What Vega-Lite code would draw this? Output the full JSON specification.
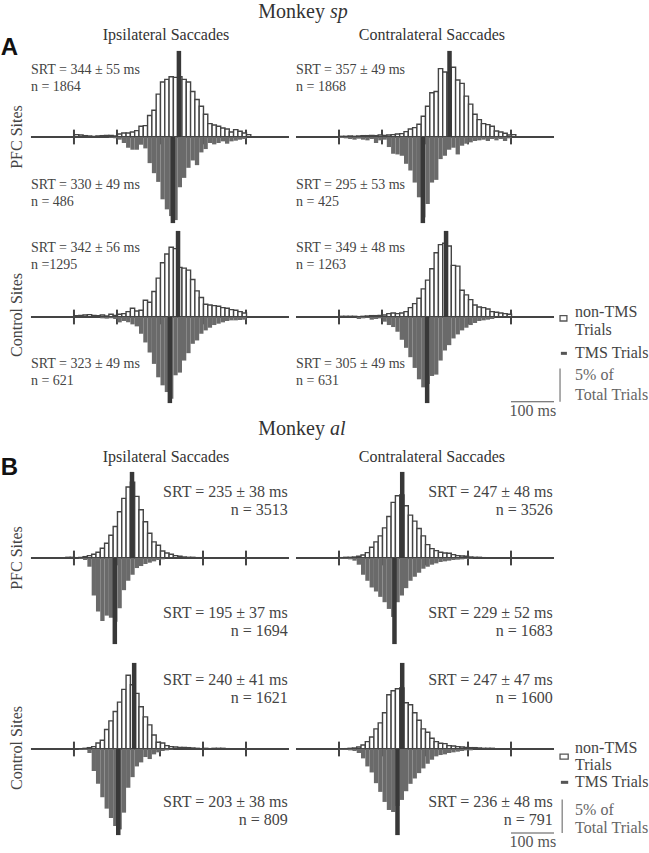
{
"$schema":"https://vega.github.io/schema/vega-lite/v6.json",
"padding":0,
"background":"white",
"spacing":0,
"bounds":"flush",
"columns":2,
"config":{"view":{"stroke":null},"axis":{"disable":true},"concat":{"spacing":0}},
"datasets":{
"ticks":[{"t":100},{"t":200},{"t":300},{"t":400},{"t":500}],
"stats":[
{"p":"A1L","s":"non","m":344,"l":["SRT = 344 ± 55 ms","n = 1864"]},
{"p":"A1L","s":"tms","m":330,"l":["SRT = 330 ± 49 ms","n = 486"]},
{"p":"A1R","s":"non","m":357,"l":["SRT = 357 ± 49 ms","n = 1868"]},
{"p":"A1R","s":"tms","m":295,"l":["SRT = 295 ± 53 ms","n = 425"]},
{"p":"A2L","s":"non","m":342,"l":["SRT = 342 ± 56 ms","n =1295"]},
{"p":"A2L","s":"tms","m":323,"l":["SRT = 323 ± 49 ms","n = 621"]},
{"p":"A2R","s":"non","m":349,"l":["SRT = 349 ± 48 ms","n = 1263"]},
{"p":"A2R","s":"tms","m":305,"l":["SRT = 305 ± 49 ms","n = 631"]},
{"p":"B1L","s":"non","m":235,"l":["SRT = 235 ± 38 ms","n = 3513"]},
{"p":"B1L","s":"tms","m":195,"l":["SRT = 195 ± 37 ms","n = 1694"]},
{"p":"B1R","s":"non","m":247,"l":["SRT = 247 ± 48 ms","n = 3526"]},
{"p":"B1R","s":"tms","m":229,"l":["SRT = 229 ± 52 ms","n = 1683"]},
{"p":"B2L","s":"non","m":240,"l":["SRT = 240 ± 41 ms","n = 1621"]},
{"p":"B2L","s":"tms","m":203,"l":["SRT = 203 ± 38 ms","n = 809"]},
{"p":"B2R","s":"non","m":247,"l":["SRT = 247 ± 47 ms","n = 1600"]},
{"p":"B2R","s":"tms","m":236,"l":["SRT = 236 ± 48 ms","n = 791"]}
],
"bins":[
{"p":"A1L","s":"non","t":100,"v":0.35},{"p":"A1L","s":"non","t":110,"v":0.3},{"p":"A1L","s":"non","t":120,"v":0.2},{"p":"A1L","s":"non","t":130,"v":0.15},{"p":"A1L","s":"non","t":140,"v":0.1},{"p":"A1L","s":"non","t":150,"v":0.15},{"p":"A1L","s":"non","t":160,"v":0.2},{"p":"A1L","s":"non","t":170,"v":0.25},{"p":"A1L","s":"non","t":180,"v":0.25},{"p":"A1L","s":"non","t":190,"v":0.15},{"p":"A1L","s":"non","t":200,"v":0.45},{"p":"A1L","s":"non","t":210,"v":0.6},{"p":"A1L","s":"non","t":220,"v":0.6},{"p":"A1L","s":"non","t":230,"v":0.75},{"p":"A1L","s":"non","t":240,"v":0.95},{"p":"A1L","s":"non","t":250,"v":1.6},{"p":"A1L","s":"non","t":260,"v":1.7},{"p":"A1L","s":"non","t":270,"v":3.2},{"p":"A1L","s":"non","t":280,"v":4.0},{"p":"A1L","s":"non","t":290,"v":6.4},{"p":"A1L","s":"non","t":300,"v":8.2},{"p":"A1L","s":"non","t":310,"v":8.6},{"p":"A1L","s":"non","t":320,"v":9.0},{"p":"A1L","s":"non","t":330,"v":8.9},{"p":"A1L","s":"non","t":340,"v":9.0},{"p":"A1L","s":"non","t":350,"v":8.6},{"p":"A1L","s":"non","t":360,"v":8.2},{"p":"A1L","s":"non","t":370,"v":6.8},{"p":"A1L","s":"non","t":380,"v":5.6},{"p":"A1L","s":"non","t":390,"v":4.6},{"p":"A1L","s":"non","t":400,"v":3.4},{"p":"A1L","s":"non","t":410,"v":2.0},{"p":"A1L","s":"non","t":420,"v":1.8},{"p":"A1L","s":"non","t":430,"v":1.6},{"p":"A1L","s":"non","t":440,"v":1.35},{"p":"A1L","s":"non","t":450,"v":1.2},{"p":"A1L","s":"non","t":460,"v":0.75},{"p":"A1L","s":"non","t":470,"v":1.1},{"p":"A1L","s":"non","t":480,"v":0.85},{"p":"A1L","s":"non","t":490,"v":0.6},{"p":"A1L","s":"non","t":500,"v":0.35},
{"p":"A1L","s":"tms","t":180,"v":0.1},{"p":"A1L","s":"tms","t":190,"v":0.2},{"p":"A1L","s":"tms","t":200,"v":0.4},{"p":"A1L","s":"tms","t":210,"v":0.9},{"p":"A1L","s":"tms","t":220,"v":1.6},{"p":"A1L","s":"tms","t":230,"v":1.9},{"p":"A1L","s":"tms","t":240,"v":1.9},{"p":"A1L","s":"tms","t":250,"v":1.15},{"p":"A1L","s":"tms","t":260,"v":1.7},{"p":"A1L","s":"tms","t":270,"v":3.9},{"p":"A1L","s":"tms","t":280,"v":5.4},{"p":"A1L","s":"tms","t":290,"v":6.7},{"p":"A1L","s":"tms","t":300,"v":9.3},{"p":"A1L","s":"tms","t":310,"v":10.8},{"p":"A1L","s":"tms","t":320,"v":11.8},{"p":"A1L","s":"tms","t":330,"v":12.4},{"p":"A1L","s":"tms","t":340,"v":7.5},{"p":"A1L","s":"tms","t":350,"v":6.1},{"p":"A1L","s":"tms","t":360,"v":4.6},{"p":"A1L","s":"tms","t":370,"v":3.5},{"p":"A1L","s":"tms","t":380,"v":4.2},{"p":"A1L","s":"tms","t":390,"v":2.3},{"p":"A1L","s":"tms","t":400,"v":1.8},{"p":"A1L","s":"tms","t":410,"v":0.9},{"p":"A1L","s":"tms","t":420,"v":1.1},{"p":"A1L","s":"tms","t":430,"v":0.9},{"p":"A1L","s":"tms","t":440,"v":0.65},{"p":"A1L","s":"tms","t":450,"v":1.0},{"p":"A1L","s":"tms","t":460,"v":0.65},{"p":"A1L","s":"tms","t":470,"v":0.55},{"p":"A1L","s":"tms","t":480,"v":0.4},{"p":"A1L","s":"tms","t":490,"v":0.3},
{"p":"A1R","s":"non","t":100,"v":0.1},{"p":"A1R","s":"non","t":110,"v":0.1},{"p":"A1R","s":"non","t":120,"v":0.15},{"p":"A1R","s":"non","t":130,"v":0.1},{"p":"A1R","s":"non","t":140,"v":0.15},{"p":"A1R","s":"non","t":150,"v":0.2},{"p":"A1R","s":"non","t":160,"v":0.2},{"p":"A1R","s":"non","t":170,"v":0.25},{"p":"A1R","s":"non","t":180,"v":0.2},{"p":"A1R","s":"non","t":190,"v":0.3},{"p":"A1R","s":"non","t":200,"v":0.25},{"p":"A1R","s":"non","t":210,"v":0.3},{"p":"A1R","s":"non","t":220,"v":0.35},{"p":"A1R","s":"non","t":230,"v":0.45},{"p":"A1R","s":"non","t":240,"v":0.5},{"p":"A1R","s":"non","t":250,"v":0.8},{"p":"A1R","s":"non","t":260,"v":1.2},{"p":"A1R","s":"non","t":270,"v":1.4},{"p":"A1R","s":"non","t":280,"v":1.9},{"p":"A1R","s":"non","t":290,"v":3.1},{"p":"A1R","s":"non","t":300,"v":4.6},{"p":"A1R","s":"non","t":310,"v":6.6},{"p":"A1R","s":"non","t":320,"v":6.8},{"p":"A1R","s":"non","t":330,"v":10.2},{"p":"A1R","s":"non","t":340,"v":9.7},{"p":"A1R","s":"non","t":350,"v":9.6},{"p":"A1R","s":"non","t":360,"v":10.4},{"p":"A1R","s":"non","t":370,"v":8.5},{"p":"A1R","s":"non","t":380,"v":8.0},{"p":"A1R","s":"non","t":390,"v":6.1},{"p":"A1R","s":"non","t":400,"v":4.9},{"p":"A1R","s":"non","t":410,"v":3.4},{"p":"A1R","s":"non","t":420,"v":2.6},{"p":"A1R","s":"non","t":430,"v":2.0},{"p":"A1R","s":"non","t":440,"v":1.85},{"p":"A1R","s":"non","t":450,"v":1.6},{"p":"A1R","s":"non","t":460,"v":0.9},{"p":"A1R","s":"non","t":470,"v":0.75},{"p":"A1R","s":"non","t":480,"v":0.55},{"p":"A1R","s":"non","t":490,"v":0.3},{"p":"A1R","s":"non","t":500,"v":0.35},
{"p":"A1R","s":"tms","t":100,"v":0.15},{"p":"A1R","s":"tms","t":110,"v":0.2},{"p":"A1R","s":"tms","t":120,"v":0.3},{"p":"A1R","s":"tms","t":130,"v":0.4},{"p":"A1R","s":"tms","t":140,"v":0.25},{"p":"A1R","s":"tms","t":150,"v":0.4},{"p":"A1R","s":"tms","t":160,"v":0.5},{"p":"A1R","s":"tms","t":170,"v":0.3},{"p":"A1R","s":"tms","t":180,"v":0.9},{"p":"A1R","s":"tms","t":190,"v":0.5},{"p":"A1R","s":"tms","t":200,"v":0.4},{"p":"A1R","s":"tms","t":210,"v":1.5},{"p":"A1R","s":"tms","t":220,"v":2.5},{"p":"A1R","s":"tms","t":230,"v":2.6},{"p":"A1R","s":"tms","t":240,"v":2.8},{"p":"A1R","s":"tms","t":250,"v":4.0},{"p":"A1R","s":"tms","t":260,"v":5.0},{"p":"A1R","s":"tms","t":270,"v":6.8},{"p":"A1R","s":"tms","t":280,"v":9.0},{"p":"A1R","s":"tms","t":290,"v":12.0},{"p":"A1R","s":"tms","t":300,"v":10.0},{"p":"A1R","s":"tms","t":310,"v":6.8},{"p":"A1R","s":"tms","t":320,"v":6.4},{"p":"A1R","s":"tms","t":330,"v":3.3},{"p":"A1R","s":"tms","t":340,"v":2.8},{"p":"A1R","s":"tms","t":350,"v":1.9},{"p":"A1R","s":"tms","t":360,"v":1.6},{"p":"A1R","s":"tms","t":370,"v":2.6},{"p":"A1R","s":"tms","t":380,"v":1.3},{"p":"A1R","s":"tms","t":390,"v":1.0},{"p":"A1R","s":"tms","t":400,"v":0.8},{"p":"A1R","s":"tms","t":410,"v":0.6},{"p":"A1R","s":"tms","t":420,"v":0.5},{"p":"A1R","s":"tms","t":430,"v":0.4},{"p":"A1R","s":"tms","t":440,"v":0.6},{"p":"A1R","s":"tms","t":450,"v":0.3},{"p":"A1R","s":"tms","t":460,"v":0.5},{"p":"A1R","s":"tms","t":470,"v":0.3},{"p":"A1R","s":"tms","t":480,"v":0.6},{"p":"A1R","s":"tms","t":490,"v":0.2},
{"p":"A2L","s":"non","t":100,"v":0.2},{"p":"A2L","s":"non","t":110,"v":0.25},{"p":"A2L","s":"non","t":120,"v":0.3},{"p":"A2L","s":"non","t":130,"v":0.35},{"p":"A2L","s":"non","t":140,"v":0.25},{"p":"A2L","s":"non","t":150,"v":0.2},{"p":"A2L","s":"non","t":160,"v":0.3},{"p":"A2L","s":"non","t":170,"v":0.15},{"p":"A2L","s":"non","t":180,"v":0.4},{"p":"A2L","s":"non","t":190,"v":0.25},{"p":"A2L","s":"non","t":200,"v":0.4},{"p":"A2L","s":"non","t":210,"v":0.5},{"p":"A2L","s":"non","t":220,"v":0.8},{"p":"A2L","s":"non","t":230,"v":1.3},{"p":"A2L","s":"non","t":240,"v":0.9},{"p":"A2L","s":"non","t":250,"v":1.0},{"p":"A2L","s":"non","t":260,"v":2.5},{"p":"A2L","s":"non","t":270,"v":2.2},{"p":"A2L","s":"non","t":280,"v":3.8},{"p":"A2L","s":"non","t":290,"v":5.8},{"p":"A2L","s":"non","t":300,"v":8.1},{"p":"A2L","s":"non","t":310,"v":9.4},{"p":"A2L","s":"non","t":320,"v":10.4},{"p":"A2L","s":"non","t":330,"v":10.2},{"p":"A2L","s":"non","t":340,"v":7.4},{"p":"A2L","s":"non","t":350,"v":7.3},{"p":"A2L","s":"non","t":360,"v":7.0},{"p":"A2L","s":"non","t":370,"v":5.6},{"p":"A2L","s":"non","t":380,"v":3.9},{"p":"A2L","s":"non","t":390,"v":2.9},{"p":"A2L","s":"non","t":400,"v":1.9},{"p":"A2L","s":"non","t":410,"v":1.8},{"p":"A2L","s":"non","t":420,"v":1.7},{"p":"A2L","s":"non","t":430,"v":1.6},{"p":"A2L","s":"non","t":440,"v":1.4},{"p":"A2L","s":"non","t":450,"v":1.3},{"p":"A2L","s":"non","t":460,"v":1.1},{"p":"A2L","s":"non","t":470,"v":1.0},{"p":"A2L","s":"non","t":480,"v":0.8},{"p":"A2L","s":"non","t":490,"v":0.6},
{"p":"A2L","s":"tms","t":160,"v":0.2},{"p":"A2L","s":"tms","t":170,"v":0.25},{"p":"A2L","s":"tms","t":180,"v":0.2},{"p":"A2L","s":"tms","t":190,"v":0.3},{"p":"A2L","s":"tms","t":200,"v":0.8},{"p":"A2L","s":"tms","t":210,"v":0.6},{"p":"A2L","s":"tms","t":220,"v":0.8},{"p":"A2L","s":"tms","t":230,"v":1.1},{"p":"A2L","s":"tms","t":240,"v":1.4},{"p":"A2L","s":"tms","t":250,"v":2.5},{"p":"A2L","s":"tms","t":260,"v":3.8},{"p":"A2L","s":"tms","t":270,"v":5.3},{"p":"A2L","s":"tms","t":280,"v":7.0},{"p":"A2L","s":"tms","t":290,"v":9.0},{"p":"A2L","s":"tms","t":300,"v":10.2},{"p":"A2L","s":"tms","t":310,"v":11.2},{"p":"A2L","s":"tms","t":320,"v":12.2},{"p":"A2L","s":"tms","t":330,"v":8.7},{"p":"A2L","s":"tms","t":340,"v":8.3},{"p":"A2L","s":"tms","t":350,"v":6.5},{"p":"A2L","s":"tms","t":360,"v":5.4},{"p":"A2L","s":"tms","t":370,"v":4.0},{"p":"A2L","s":"tms","t":380,"v":3.5},{"p":"A2L","s":"tms","t":390,"v":2.5},{"p":"A2L","s":"tms","t":400,"v":2.0},{"p":"A2L","s":"tms","t":410,"v":1.6},{"p":"A2L","s":"tms","t":420,"v":1.2},{"p":"A2L","s":"tms","t":430,"v":1.0},{"p":"A2L","s":"tms","t":440,"v":0.8},{"p":"A2L","s":"tms","t":450,"v":0.6},{"p":"A2L","s":"tms","t":460,"v":0.5},{"p":"A2L","s":"tms","t":470,"v":0.5},{"p":"A2L","s":"tms","t":480,"v":0.45},{"p":"A2L","s":"tms","t":490,"v":0.4},
{"p":"A2R","s":"non","t":100,"v":0.1},{"p":"A2R","s":"non","t":110,"v":0.1},{"p":"A2R","s":"non","t":120,"v":0.1},{"p":"A2R","s":"non","t":130,"v":0.1},{"p":"A2R","s":"non","t":140,"v":0.05},{"p":"A2R","s":"non","t":150,"v":0.1},{"p":"A2R","s":"non","t":160,"v":0.15},{"p":"A2R","s":"non","t":170,"v":0.2},{"p":"A2R","s":"non","t":180,"v":0.2},{"p":"A2R","s":"non","t":190,"v":0.25},{"p":"A2R","s":"non","t":200,"v":0.3},{"p":"A2R","s":"non","t":210,"v":0.5},{"p":"A2R","s":"non","t":220,"v":0.6},{"p":"A2R","s":"non","t":230,"v":0.5},{"p":"A2R","s":"non","t":240,"v":0.6},{"p":"A2R","s":"non","t":250,"v":0.8},{"p":"A2R","s":"non","t":260,"v":1.4},{"p":"A2R","s":"non","t":270,"v":2.0},{"p":"A2R","s":"non","t":280,"v":2.8},{"p":"A2R","s":"non","t":290,"v":4.2},{"p":"A2R","s":"non","t":300,"v":5.5},{"p":"A2R","s":"non","t":310,"v":7.2},{"p":"A2R","s":"non","t":320,"v":9.6},{"p":"A2R","s":"non","t":330,"v":10.8},{"p":"A2R","s":"non","t":340,"v":11.0},{"p":"A2R","s":"non","t":350,"v":10.6},{"p":"A2R","s":"non","t":360,"v":7.7},{"p":"A2R","s":"non","t":370,"v":7.6},{"p":"A2R","s":"non","t":380,"v":4.0},{"p":"A2R","s":"non","t":390,"v":3.3},{"p":"A2R","s":"non","t":400,"v":2.6},{"p":"A2R","s":"non","t":410,"v":1.8},{"p":"A2R","s":"non","t":420,"v":1.5},{"p":"A2R","s":"non","t":430,"v":1.4},{"p":"A2R","s":"non","t":440,"v":1.2},{"p":"A2R","s":"non","t":450,"v":0.8},{"p":"A2R","s":"non","t":460,"v":0.7},{"p":"A2R","s":"non","t":470,"v":0.6},{"p":"A2R","s":"non","t":480,"v":0.5},{"p":"A2R","s":"non","t":490,"v":0.4},
{"p":"A2R","s":"tms","t":140,"v":0.3},{"p":"A2R","s":"tms","t":150,"v":0.2},{"p":"A2R","s":"tms","t":160,"v":0.1},{"p":"A2R","s":"tms","t":170,"v":0.4},{"p":"A2R","s":"tms","t":180,"v":0.3},{"p":"A2R","s":"tms","t":190,"v":0.2},{"p":"A2R","s":"tms","t":200,"v":0.7},{"p":"A2R","s":"tms","t":210,"v":1.2},{"p":"A2R","s":"tms","t":220,"v":1.5},{"p":"A2R","s":"tms","t":230,"v":2.2},{"p":"A2R","s":"tms","t":240,"v":3.4},{"p":"A2R","s":"tms","t":250,"v":4.6},{"p":"A2R","s":"tms","t":260,"v":6.0},{"p":"A2R","s":"tms","t":270,"v":7.6},{"p":"A2R","s":"tms","t":280,"v":9.3},{"p":"A2R","s":"tms","t":290,"v":10.5},{"p":"A2R","s":"tms","t":300,"v":10.0},{"p":"A2R","s":"tms","t":310,"v":8.8},{"p":"A2R","s":"tms","t":320,"v":8.6},{"p":"A2R","s":"tms","t":330,"v":6.5},{"p":"A2R","s":"tms","t":340,"v":5.0},{"p":"A2R","s":"tms","t":350,"v":4.2},{"p":"A2R","s":"tms","t":360,"v":3.2},{"p":"A2R","s":"tms","t":370,"v":2.6},{"p":"A2R","s":"tms","t":380,"v":2.0},{"p":"A2R","s":"tms","t":390,"v":1.6},{"p":"A2R","s":"tms","t":400,"v":1.2},{"p":"A2R","s":"tms","t":410,"v":0.9},{"p":"A2R","s":"tms","t":420,"v":0.6},{"p":"A2R","s":"tms","t":430,"v":0.5},{"p":"A2R","s":"tms","t":440,"v":0.4},{"p":"A2R","s":"tms","t":450,"v":0.3},
{"p":"B1L","s":"non","t":80,"v":0.1},{"p":"B1L","s":"non","t":90,"v":0.1},{"p":"B1L","s":"non","t":100,"v":0.05},{"p":"B1L","s":"non","t":110,"v":0.1},{"p":"B1L","s":"non","t":120,"v":0.2},{"p":"B1L","s":"non","t":130,"v":0.35},{"p":"B1L","s":"non","t":140,"v":0.55},{"p":"B1L","s":"non","t":150,"v":0.85},{"p":"B1L","s":"non","t":160,"v":1.45},{"p":"B1L","s":"non","t":170,"v":2.2},{"p":"B1L","s":"non","t":180,"v":3.4},{"p":"B1L","s":"non","t":190,"v":4.7},{"p":"B1L","s":"non","t":200,"v":6.9},{"p":"B1L","s":"non","t":210,"v":8.9},{"p":"B1L","s":"non","t":220,"v":10.6},{"p":"B1L","s":"non","t":230,"v":11.3},{"p":"B1L","s":"non","t":240,"v":9.2},{"p":"B1L","s":"non","t":250,"v":7.2},{"p":"B1L","s":"non","t":260,"v":5.4},{"p":"B1L","s":"non","t":270,"v":3.7},{"p":"B1L","s":"non","t":280,"v":2.4},{"p":"B1L","s":"non","t":290,"v":1.9},{"p":"B1L","s":"non","t":300,"v":1.05},{"p":"B1L","s":"non","t":310,"v":0.75},{"p":"B1L","s":"non","t":320,"v":0.55},{"p":"B1L","s":"non","t":330,"v":0.35},{"p":"B1L","s":"non","t":340,"v":0.25},{"p":"B1L","s":"non","t":350,"v":0.15},{"p":"B1L","s":"non","t":360,"v":0.1},{"p":"B1L","s":"non","t":370,"v":0.1},{"p":"B1L","s":"non","t":380,"v":0.05},{"p":"B1L","s":"non","t":390,"v":0.05},
{"p":"B1L","s":"tms","t":110,"v":0.1},{"p":"B1L","s":"tms","t":120,"v":0.3},{"p":"B1L","s":"tms","t":130,"v":1.3},{"p":"B1L","s":"tms","t":140,"v":5.6},{"p":"B1L","s":"tms","t":150,"v":8.0},{"p":"B1L","s":"tms","t":160,"v":9.4},{"p":"B1L","s":"tms","t":170,"v":8.6},{"p":"B1L","s":"tms","t":180,"v":8.9},{"p":"B1L","s":"tms","t":190,"v":9.5},{"p":"B1L","s":"tms","t":200,"v":7.5},{"p":"B1L","s":"tms","t":210,"v":4.8},{"p":"B1L","s":"tms","t":220,"v":3.4},{"p":"B1L","s":"tms","t":230,"v":2.5},{"p":"B1L","s":"tms","t":240,"v":1.5},{"p":"B1L","s":"tms","t":250,"v":1.2},{"p":"B1L","s":"tms","t":260,"v":0.9},{"p":"B1L","s":"tms","t":270,"v":0.7},{"p":"B1L","s":"tms","t":280,"v":0.5},{"p":"B1L","s":"tms","t":290,"v":0.3},{"p":"B1L","s":"tms","t":300,"v":0.2},
{"p":"B1R","s":"non","t":90,"v":0.05},{"p":"B1R","s":"non","t":100,"v":0.05},{"p":"B1R","s":"non","t":110,"v":0.1},{"p":"B1R","s":"non","t":120,"v":0.1},{"p":"B1R","s":"non","t":130,"v":0.15},{"p":"B1R","s":"non","t":140,"v":0.25},{"p":"B1R","s":"non","t":150,"v":0.45},{"p":"B1R","s":"non","t":160,"v":0.8},{"p":"B1R","s":"non","t":170,"v":1.6},{"p":"B1R","s":"non","t":180,"v":2.4},{"p":"B1R","s":"non","t":190,"v":3.3},{"p":"B1R","s":"non","t":200,"v":4.5},{"p":"B1R","s":"non","t":210,"v":6.2},{"p":"B1R","s":"non","t":220,"v":8.3},{"p":"B1R","s":"non","t":230,"v":9.3},{"p":"B1R","s":"non","t":240,"v":9.4},{"p":"B1R","s":"non","t":250,"v":7.8},{"p":"B1R","s":"non","t":260,"v":6.4},{"p":"B1R","s":"non","t":270,"v":5.5},{"p":"B1R","s":"non","t":280,"v":4.4},{"p":"B1R","s":"non","t":290,"v":3.3},{"p":"B1R","s":"non","t":300,"v":2.0},{"p":"B1R","s":"non","t":310,"v":1.4},{"p":"B1R","s":"non","t":320,"v":1.1},{"p":"B1R","s":"non","t":330,"v":0.85},{"p":"B1R","s":"non","t":340,"v":0.75},{"p":"B1R","s":"non","t":350,"v":0.7},{"p":"B1R","s":"non","t":360,"v":0.5},{"p":"B1R","s":"non","t":370,"v":0.35},{"p":"B1R","s":"non","t":380,"v":0.3},{"p":"B1R","s":"non","t":390,"v":0.25},{"p":"B1R","s":"non","t":400,"v":0.15},{"p":"B1R","s":"non","t":410,"v":0.1},{"p":"B1R","s":"non","t":420,"v":0.1},{"p":"B1R","s":"non","t":430,"v":0.05},
{"p":"B1R","s":"tms","t":100,"v":0.1},{"p":"B1R","s":"tms","t":110,"v":0.1},{"p":"B1R","s":"tms","t":120,"v":0.2},{"p":"B1R","s":"tms","t":130,"v":0.4},{"p":"B1R","s":"tms","t":140,"v":1.0},{"p":"B1R","s":"tms","t":150,"v":2.5},{"p":"B1R","s":"tms","t":160,"v":3.4},{"p":"B1R","s":"tms","t":170,"v":4.4},{"p":"B1R","s":"tms","t":180,"v":5.0},{"p":"B1R","s":"tms","t":190,"v":5.8},{"p":"B1R","s":"tms","t":200,"v":6.6},{"p":"B1R","s":"tms","t":210,"v":7.6},{"p":"B1R","s":"tms","t":220,"v":8.8},{"p":"B1R","s":"tms","t":230,"v":6.6},{"p":"B1R","s":"tms","t":240,"v":5.6},{"p":"B1R","s":"tms","t":250,"v":4.5},{"p":"B1R","s":"tms","t":260,"v":3.4},{"p":"B1R","s":"tms","t":270,"v":2.8},{"p":"B1R","s":"tms","t":280,"v":2.2},{"p":"B1R","s":"tms","t":290,"v":1.6},{"p":"B1R","s":"tms","t":300,"v":1.3},{"p":"B1R","s":"tms","t":310,"v":1.0},{"p":"B1R","s":"tms","t":320,"v":0.8},{"p":"B1R","s":"tms","t":330,"v":0.6},{"p":"B1R","s":"tms","t":340,"v":0.5},{"p":"B1R","s":"tms","t":350,"v":0.4},{"p":"B1R","s":"tms","t":360,"v":0.3},{"p":"B1R","s":"tms","t":370,"v":0.25},{"p":"B1R","s":"tms","t":380,"v":0.2},{"p":"B1R","s":"tms","t":390,"v":0.15},{"p":"B1R","s":"tms","t":400,"v":0.1},
{"p":"B2L","s":"non","t":120,"v":0.1},{"p":"B2L","s":"non","t":130,"v":0.2},{"p":"B2L","s":"non","t":140,"v":0.35},{"p":"B2L","s":"non","t":150,"v":0.9},{"p":"B2L","s":"non","t":160,"v":1.3},{"p":"B2L","s":"non","t":170,"v":2.9},{"p":"B2L","s":"non","t":180,"v":4.2},{"p":"B2L","s":"non","t":190,"v":5.6},{"p":"B2L","s":"non","t":200,"v":7.0},{"p":"B2L","s":"non","t":210,"v":8.9},{"p":"B2L","s":"non","t":220,"v":11.0},{"p":"B2L","s":"non","t":230,"v":9.6},{"p":"B2L","s":"non","t":240,"v":8.3},{"p":"B2L","s":"non","t":250,"v":6.3},{"p":"B2L","s":"non","t":260,"v":4.8},{"p":"B2L","s":"non","t":270,"v":3.6},{"p":"B2L","s":"non","t":280,"v":2.1},{"p":"B2L","s":"non","t":290,"v":1.0},{"p":"B2L","s":"non","t":300,"v":0.9},{"p":"B2L","s":"non","t":310,"v":0.5},{"p":"B2L","s":"non","t":320,"v":0.35},{"p":"B2L","s":"non","t":330,"v":0.3},{"p":"B2L","s":"non","t":340,"v":0.25},{"p":"B2L","s":"non","t":350,"v":0.25},{"p":"B2L","s":"non","t":360,"v":0.2},{"p":"B2L","s":"non","t":370,"v":0.15},{"p":"B2L","s":"non","t":380,"v":0.1},{"p":"B2L","s":"non","t":390,"v":0.05},{"p":"B2L","s":"non","t":400,"v":0.1},{"p":"B2L","s":"non","t":410,"v":0.05},{"p":"B2L","s":"non","t":420,"v":0.1},{"p":"B2L","s":"non","t":430,"v":0.1},{"p":"B2L","s":"non","t":440,"v":0.1},{"p":"B2L","s":"non","t":450,"v":0.05},
{"p":"B2L","s":"tms","t":110,"v":0.1},{"p":"B2L","s":"tms","t":120,"v":0.15},{"p":"B2L","s":"tms","t":130,"v":0.6},{"p":"B2L","s":"tms","t":140,"v":3.3},{"p":"B2L","s":"tms","t":150,"v":5.2},{"p":"B2L","s":"tms","t":160,"v":7.2},{"p":"B2L","s":"tms","t":170,"v":8.9},{"p":"B2L","s":"tms","t":180,"v":10.3},{"p":"B2L","s":"tms","t":190,"v":11.5},{"p":"B2L","s":"tms","t":200,"v":12.0},{"p":"B2L","s":"tms","t":210,"v":9.5},{"p":"B2L","s":"tms","t":220,"v":5.8},{"p":"B2L","s":"tms","t":230,"v":4.2},{"p":"B2L","s":"tms","t":240,"v":2.6},{"p":"B2L","s":"tms","t":250,"v":2.0},{"p":"B2L","s":"tms","t":260,"v":1.2},{"p":"B2L","s":"tms","t":270,"v":1.5},{"p":"B2L","s":"tms","t":280,"v":0.8},{"p":"B2L","s":"tms","t":290,"v":0.5},{"p":"B2L","s":"tms","t":300,"v":0.3},{"p":"B2L","s":"tms","t":310,"v":0.2},{"p":"B2L","s":"tms","t":320,"v":0.1},
{"p":"B2R","s":"non","t":110,"v":0.05},{"p":"B2R","s":"non","t":120,"v":0.1},{"p":"B2R","s":"non","t":130,"v":0.15},{"p":"B2R","s":"non","t":140,"v":0.3},{"p":"B2R","s":"non","t":150,"v":0.6},{"p":"B2R","s":"non","t":160,"v":1.1},{"p":"B2R","s":"non","t":170,"v":1.8},{"p":"B2R","s":"non","t":180,"v":3.0},{"p":"B2R","s":"non","t":190,"v":3.9},{"p":"B2R","s":"non","t":200,"v":5.4},{"p":"B2R","s":"non","t":210,"v":8.1},{"p":"B2R","s":"non","t":220,"v":8.7},{"p":"B2R","s":"non","t":230,"v":9.0},{"p":"B2R","s":"non","t":240,"v":9.1},{"p":"B2R","s":"non","t":250,"v":6.9},{"p":"B2R","s":"non","t":260,"v":6.6},{"p":"B2R","s":"non","t":270,"v":5.4},{"p":"B2R","s":"non","t":280,"v":4.3},{"p":"B2R","s":"non","t":290,"v":3.0},{"p":"B2R","s":"non","t":300,"v":2.5},{"p":"B2R","s":"non","t":310,"v":1.6},{"p":"B2R","s":"non","t":320,"v":1.1},{"p":"B2R","s":"non","t":330,"v":0.85},{"p":"B2R","s":"non","t":340,"v":0.8},{"p":"B2R","s":"non","t":350,"v":0.5},{"p":"B2R","s":"non","t":360,"v":0.45},{"p":"B2R","s":"non","t":370,"v":0.35},{"p":"B2R","s":"non","t":380,"v":0.3},{"p":"B2R","s":"non","t":390,"v":0.25},{"p":"B2R","s":"non","t":400,"v":0.2},{"p":"B2R","s":"non","t":410,"v":0.2},{"p":"B2R","s":"non","t":420,"v":0.15},{"p":"B2R","s":"non","t":430,"v":0.1},{"p":"B2R","s":"non","t":440,"v":0.1},{"p":"B2R","s":"non","t":450,"v":0.1},
{"p":"B2R","s":"tms","t":100,"v":0.1},{"p":"B2R","s":"tms","t":110,"v":0.1},{"p":"B2R","s":"tms","t":120,"v":0.2},{"p":"B2R","s":"tms","t":130,"v":0.3},{"p":"B2R","s":"tms","t":140,"v":0.6},{"p":"B2R","s":"tms","t":150,"v":1.4},{"p":"B2R","s":"tms","t":160,"v":2.6},{"p":"B2R","s":"tms","t":170,"v":3.5},{"p":"B2R","s":"tms","t":180,"v":5.1},{"p":"B2R","s":"tms","t":190,"v":6.4},{"p":"B2R","s":"tms","t":200,"v":7.9},{"p":"B2R","s":"tms","t":210,"v":9.1},{"p":"B2R","s":"tms","t":220,"v":9.4},{"p":"B2R","s":"tms","t":230,"v":8.5},{"p":"B2R","s":"tms","t":240,"v":7.6},{"p":"B2R","s":"tms","t":250,"v":6.3},{"p":"B2R","s":"tms","t":260,"v":5.2},{"p":"B2R","s":"tms","t":270,"v":4.4},{"p":"B2R","s":"tms","t":280,"v":3.6},{"p":"B2R","s":"tms","t":290,"v":2.9},{"p":"B2R","s":"tms","t":300,"v":2.2},{"p":"B2R","s":"tms","t":310,"v":1.6},{"p":"B2R","s":"tms","t":320,"v":1.1},{"p":"B2R","s":"tms","t":330,"v":0.9},{"p":"B2R","s":"tms","t":340,"v":0.8},{"p":"B2R","s":"tms","t":350,"v":0.6},{"p":"B2R","s":"tms","t":360,"v":0.5},{"p":"B2R","s":"tms","t":370,"v":0.4},{"p":"B2R","s":"tms","t":380,"v":0.3},{"p":"B2R","s":"tms","t":390,"v":0.2},{"p":"B2R","s":"tms","t":400,"v":0.2}
]
},
"concat":[
{"width":292,"height":228,"resolve":{"scale":{"y":"independent"}},"layer":[
 {"layer":[
  {"data":{"name":"ticks"},"mark":{"type":"rule","color":"#444","strokeWidth":2},"encoding":{"x":{"field":"t","type":"quantitative"},"y":{"datum":-1.1,"type":"quantitative"},"y2":{"datum":1.1}}},
  {"data":{"name":"bins"},"transform":[{"filter":"datum.p=='A1L'&&datum.s=='non'"}],"mark":{"type":"bar","fill":"#fff","stroke":"#444","strokeWidth":1.4,"binSpacing":0},"encoding":{"x":{"field":"t","type":"quantitative","bin":{"binned":true,"step":10},"scale":{"domain":[-72,607],"nice":false,"zero":false}},"y":{"field":"v","type":"quantitative","scale":{"domain":[-13.582,20.448],"nice":false,"zero":false}}}},
  {"data":{"values":[{}]},"mark":{"type":"rule","color":"#444","strokeWidth":2},"encoding":{"x":{"datum":0,"type":"quantitative"},"x2":{"datum":600},"y":{"datum":0,"type":"quantitative"}}},
  {"data":{"name":"stats"},"transform":[{"filter":"datum.p=='A1L'&&datum.s=='non'"}],"mark":{"type":"rule","color":"#383838","strokeWidth":4.5},"encoding":{"x":{"field":"m","type":"quantitative"},"y":{"datum":0,"type":"quantitative"},"y2":{"datum":12.85}}},
  {"data":{"name":"stats"},"transform":[{"filter":"datum.p=='A1L'&&datum.s=='non'"}],"mark":{"type":"text","align":"left","baseline":"middle","font":"Liberation Serif","fontSize":14,"lineHeight":17,"fill":"#444"},"encoding":{"x":{"datum":0,"type":"quantitative"},"y":{"datum":10.0,"type":"quantitative"},"text":{"field":"l","type":"nominal"}}},
  {"data":{"name":"stats"},"transform":[{"filter":"datum.p=='A1L'&&datum.s=='tms'"}],"mark":{"type":"text","align":"left","baseline":"middle","font":"Liberation Serif","fontSize":14,"lineHeight":17,"fill":"#444"},"encoding":{"x":{"datum":0,"type":"quantitative"},"y":{"datum":-7.16,"type":"quantitative"},"text":{"field":"l","type":"nominal"}}},
  {"data":{"values":[{}]},"mark":{"type":"text","text":"A","font":"Liberation Sans","fontWeight":"bold","fontSize":24,"align":"left","baseline":"middle","fill":"#111"},"encoding":{"x":{"datum":-70,"type":"quantitative"},"y":{"datum":13.28,"type":"quantitative"}}},
  {"data":{"values":[{}]},"mark":{"type":"text","text":"PFC Sites","font":"Liberation Serif","fontSize":16,"angle":270,"align":"center","baseline":"middle","fill":"#444"},"encoding":{"x":{"datum":-32.6,"type":"quantitative"},"y":{"datum":0,"type":"quantitative"}}},
  {"data":{"values":[{}]},"mark":{"type":"text","text":"Ipsilateral Saccades","font":"Liberation Serif","fontSize":16,"align":"center","baseline":"middle","fill":"#333"},"encoding":{"x":{"datum":314,"type":"quantitative"},"y":{"datum":15.22,"type":"quantitative"}}}
 ]},
 {"layer":[
  {"data":{"name":"bins"},"transform":[{"filter":"datum.p=='A1L'&&datum.s=='tms'"}],"mark":{"type":"bar","fill":"#6a6a6a","binSpacing":0},"encoding":{"x":{"field":"t","type":"quantitative","bin":{"binned":true,"step":10}},"y":{"field":"v","type":"quantitative","scale":{"domain":[-20.448,13.582],"reverse":true,"nice":false,"zero":false}}}},
  {"data":{"name":"stats"},"transform":[{"filter":"datum.p=='A1L'&&datum.s=='tms'"}],"mark":{"type":"rule","color":"#383838","strokeWidth":4.5},"encoding":{"x":{"field":"m","type":"quantitative"},"y":{"datum":0,"type":"quantitative"},"y2":{"datum":12.85}}}
 ]}
]},
{"width":357,"height":228,"resolve":{"scale":{"y":"independent"}},"layer":[
 {"layer":[
  {"data":{"name":"ticks"},"mark":{"type":"rule","color":"#444","strokeWidth":2},"encoding":{"x":{"field":"t","type":"quantitative"},"y":{"datum":-1.1,"type":"quantitative"},"y2":{"datum":1.1}}},
  {"data":{"name":"bins"},"transform":[{"filter":"datum.p=='A1R'&&datum.s=='non'"}],"mark":{"type":"bar","fill":"#fff","stroke":"#444","strokeWidth":1.4,"binSpacing":0},"encoding":{"x":{"field":"t","type":"quantitative","bin":{"binned":true,"step":10},"scale":{"domain":[-9.3,820.9],"nice":false,"zero":false}},"y":{"field":"v","type":"quantitative","scale":{"domain":[-13.582,20.448],"nice":false,"zero":false}}}},
  {"data":{"values":[{}]},"mark":{"type":"rule","color":"#444","strokeWidth":2},"encoding":{"x":{"datum":0,"type":"quantitative"},"x2":{"datum":600},"y":{"datum":0,"type":"quantitative"}}},
  {"data":{"name":"stats"},"transform":[{"filter":"datum.p=='A1R'&&datum.s=='non'"}],"mark":{"type":"rule","color":"#383838","strokeWidth":4.5},"encoding":{"x":{"field":"m","type":"quantitative"},"y":{"datum":0,"type":"quantitative"},"y2":{"datum":12.85}}},
  {"data":{"name":"stats"},"transform":[{"filter":"datum.p=='A1R'&&datum.s=='non'"}],"mark":{"type":"text","align":"left","baseline":"middle","font":"Liberation Serif","fontSize":14,"lineHeight":17,"fill":"#444"},"encoding":{"x":{"datum":0,"type":"quantitative"},"y":{"datum":10.0,"type":"quantitative"},"text":{"field":"l","type":"nominal"}}},
  {"data":{"name":"stats"},"transform":[{"filter":"datum.p=='A1R'&&datum.s=='tms'"}],"mark":{"type":"text","align":"left","baseline":"middle","font":"Liberation Serif","fontSize":14,"lineHeight":17,"fill":"#444"},"encoding":{"x":{"datum":0,"type":"quantitative"},"y":{"datum":-7.16,"type":"quantitative"},"text":{"field":"l","type":"nominal"}}},
  {"data":{"values":[{}]},"mark":{"type":"text","text":"Contralateral Saccades","font":"Liberation Serif","fontSize":16,"align":"center","baseline":"middle","fill":"#333"},"encoding":{"x":{"datum":316,"type":"quantitative"},"y":{"datum":15.22,"type":"quantitative"}}},
  {"data":{"values":[{}]},"mark":{"type":"text","text":"Monkey","font":"Liberation Serif","fontSize":20,"align":"right","baseline":"middle","fill":"#333"},"encoding":{"x":{"datum":67.4,"type":"quantitative"},"y":{"datum":18.66,"type":"quantitative"}}},
  {"data":{"values":[{}]},"mark":{"type":"text","text":"sp","font":"Liberation Serif","fontStyle":"italic","fontSize":20,"align":"left","baseline":"middle","fill":"#333"},"encoding":{"x":{"datum":79,"type":"quantitative"},"y":{"datum":18.66,"type":"quantitative"}}}
 ]},
 {"layer":[
  {"data":{"name":"bins"},"transform":[{"filter":"datum.p=='A1R'&&datum.s=='tms'"}],"mark":{"type":"bar","fill":"#6a6a6a","binSpacing":0},"encoding":{"x":{"field":"t","type":"quantitative","bin":{"binned":true,"step":10}},"y":{"field":"v","type":"quantitative","scale":{"domain":[-20.448,13.582],"reverse":true,"nice":false,"zero":false}}}},
  {"data":{"name":"stats"},"transform":[{"filter":"datum.p=='A1R'&&datum.s=='tms'"}],"mark":{"type":"rule","color":"#383838","strokeWidth":4.5},"encoding":{"x":{"field":"m","type":"quantitative"},"y":{"datum":0,"type":"quantitative"},"y2":{"datum":12.85}}}
 ]}
]},
{"width":292,"height":190,"resolve":{"scale":{"y":"independent"}},"layer":[
 {"layer":[
  {"data":{"name":"ticks"},"mark":{"type":"rule","color":"#444","strokeWidth":2},"encoding":{"x":{"field":"t","type":"quantitative"},"y":{"datum":-1.1,"type":"quantitative"},"y2":{"datum":1.1}}},
  {"data":{"name":"bins"},"transform":[{"filter":"datum.p=='A2L'&&datum.s=='non'"}],"mark":{"type":"bar","fill":"#fff","stroke":"#444","strokeWidth":1.4,"binSpacing":0},"encoding":{"x":{"field":"t","type":"quantitative","bin":{"binned":true,"step":10},"scale":{"domain":[-72,607],"nice":false,"zero":false}},"y":{"field":"v","type":"quantitative","scale":{"domain":[-15.075,13.284],"nice":false,"zero":false}}}},
  {"data":{"values":[{}]},"mark":{"type":"rule","color":"#444","strokeWidth":2},"encoding":{"x":{"datum":0,"type":"quantitative"},"x2":{"datum":600},"y":{"datum":0,"type":"quantitative"}}},
  {"data":{"name":"stats"},"transform":[{"filter":"datum.p=='A2L'&&datum.s=='non'"}],"mark":{"type":"rule","color":"#383838","strokeWidth":4.5},"encoding":{"x":{"field":"m","type":"quantitative"},"y":{"datum":0,"type":"quantitative"},"y2":{"datum":12.85}}},
  {"data":{"name":"stats"},"transform":[{"filter":"datum.p=='A2L'&&datum.s=='non'"}],"mark":{"type":"text","align":"left","baseline":"middle","font":"Liberation Serif","fontSize":14,"lineHeight":17,"fill":"#444"},"encoding":{"x":{"datum":0,"type":"quantitative"},"y":{"datum":10.3,"type":"quantitative"},"text":{"field":"l","type":"nominal"}}},
  {"data":{"name":"stats"},"transform":[{"filter":"datum.p=='A2L'&&datum.s=='tms'"}],"mark":{"type":"text","align":"left","baseline":"middle","font":"Liberation Serif","fontSize":14,"lineHeight":17,"fill":"#444"},"encoding":{"x":{"datum":0,"type":"quantitative"},"y":{"datum":-7.0,"type":"quantitative"},"text":{"field":"l","type":"nominal"}}},
  {"data":{"values":[{}]},"mark":{"type":"text","text":"Control Sites","font":"Liberation Serif","fontSize":16,"angle":270,"align":"center","baseline":"middle","fill":"#444"},"encoding":{"x":{"datum":-32.6,"type":"quantitative"},"y":{"datum":0.3,"type":"quantitative"}}}
 ]},
 {"layer":[
  {"data":{"name":"bins"},"transform":[{"filter":"datum.p=='A2L'&&datum.s=='tms'"}],"mark":{"type":"bar","fill":"#6a6a6a","binSpacing":0},"encoding":{"x":{"field":"t","type":"quantitative","bin":{"binned":true,"step":10}},"y":{"field":"v","type":"quantitative","scale":{"domain":[-13.284,15.075],"reverse":true,"nice":false,"zero":false}}}},
  {"data":{"name":"stats"},"transform":[{"filter":"datum.p=='A2L'&&datum.s=='tms'"}],"mark":{"type":"rule","color":"#383838","strokeWidth":4.5},"encoding":{"x":{"field":"m","type":"quantitative"},"y":{"datum":0,"type":"quantitative"},"y2":{"datum":12.85}}}
 ]}
]},
{"width":357,"height":190,"resolve":{"scale":{"y":"independent"}},"layer":[
 {"layer":[
  {"data":{"name":"ticks"},"mark":{"type":"rule","color":"#444","strokeWidth":2},"encoding":{"x":{"field":"t","type":"quantitative"},"y":{"datum":-1.1,"type":"quantitative"},"y2":{"datum":1.1}}},
  {"data":{"name":"bins"},"transform":[{"filter":"datum.p=='A2R'&&datum.s=='non'"}],"mark":{"type":"bar","fill":"#fff","stroke":"#444","strokeWidth":1.4,"binSpacing":0},"encoding":{"x":{"field":"t","type":"quantitative","bin":{"binned":true,"step":10},"scale":{"domain":[-9.3,820.9],"nice":false,"zero":false}},"y":{"field":"v","type":"quantitative","scale":{"domain":[-15.075,13.284],"nice":false,"zero":false}}}},
  {"data":{"values":[{}]},"mark":{"type":"rule","color":"#444","strokeWidth":2},"encoding":{"x":{"datum":0,"type":"quantitative"},"x2":{"datum":600},"y":{"datum":0,"type":"quantitative"}}},
  {"data":{"name":"stats"},"transform":[{"filter":"datum.p=='A2R'&&datum.s=='non'"}],"mark":{"type":"rule","color":"#383838","strokeWidth":4.5},"encoding":{"x":{"field":"m","type":"quantitative"},"y":{"datum":0,"type":"quantitative"},"y2":{"datum":12.85}}},
  {"data":{"name":"stats"},"transform":[{"filter":"datum.p=='A2R'&&datum.s=='non'"}],"mark":{"type":"text","align":"left","baseline":"middle","font":"Liberation Serif","fontSize":14,"lineHeight":17,"fill":"#444"},"encoding":{"x":{"datum":0,"type":"quantitative"},"y":{"datum":10.3,"type":"quantitative"},"text":{"field":"l","type":"nominal"}}},
  {"data":{"name":"stats"},"transform":[{"filter":"datum.p=='A2R'&&datum.s=='tms'"}],"mark":{"type":"text","align":"left","baseline":"middle","font":"Liberation Serif","fontSize":14,"lineHeight":17,"fill":"#444"},"encoding":{"x":{"datum":0,"type":"quantitative"},"y":{"datum":-7.0,"type":"quantitative"},"text":{"field":"l","type":"nominal"}}},
  {"data":{"values":[{}]},"mark":{"type":"rect","fill":"#fff","stroke":"#555","strokeWidth":1.3},"encoding":{"x":{"datum":614,"type":"quantitative"},"x2":{"datum":630},"y":{"datum":0.2,"type":"quantitative"},"y2":{"datum":-0.6}}},
  {"data":{"values":[{}]},"mark":{"type":"text","text":["non-TMS","Trials"],"font":"Liberation Serif","fontSize":16,"lineHeight":18,"align":"left","baseline":"middle","fill":"#444"},"encoding":{"x":{"datum":649,"type":"quantitative"},"y":{"datum":0.75,"type":"quantitative"}}},
  {"data":{"values":[{}]},"mark":{"type":"rect","fill":"#555"},"encoding":{"x":{"datum":616,"type":"quantitative"},"x2":{"datum":630},"y":{"datum":-5.2,"type":"quantitative"},"y2":{"datum":-5.65}}},
  {"data":{"values":[{}]},"mark":{"type":"text","text":"TMS Trials","font":"Liberation Serif","fontSize":16,"align":"left","baseline":"middle","fill":"#444"},"encoding":{"x":{"datum":649,"type":"quantitative"},"y":{"datum":-5.37,"type":"quantitative"}}},
  {"data":{"values":[{}]},"mark":{"type":"rule","color":"#777","strokeWidth":1.2},"encoding":{"x":{"datum":614,"type":"quantitative"},"y":{"datum":-7.7,"type":"quantitative"},"y2":{"datum":-12.65}}},
  {"data":{"values":[{}]},"mark":{"type":"text","text":["5% of","Total Trials"],"font":"Liberation Serif","fontSize":16,"lineHeight":20,"align":"left","baseline":"middle","fill":"#666"},"encoding":{"x":{"datum":649,"type":"quantitative"},"y":{"datum":-8.66,"type":"quantitative"}}},
  {"data":{"values":[{}]},"mark":{"type":"rule","color":"#555","strokeWidth":1.2},"encoding":{"x":{"datum":500,"type":"quantitative"},"x2":{"datum":600},"y":{"datum":-12.65,"type":"quantitative"}}},
  {"data":{"values":[{}]},"mark":{"type":"text","text":"100 ms","font":"Liberation Serif","fontSize":16,"align":"center","baseline":"middle","fill":"#555"},"encoding":{"x":{"datum":551,"type":"quantitative"},"y":{"datum":-14.0,"type":"quantitative"}}}
 ]},
 {"layer":[
  {"data":{"name":"bins"},"transform":[{"filter":"datum.p=='A2R'&&datum.s=='tms'"}],"mark":{"type":"bar","fill":"#6a6a6a","binSpacing":0},"encoding":{"x":{"field":"t","type":"quantitative","bin":{"binned":true,"step":10}},"y":{"field":"v","type":"quantitative","scale":{"domain":[-13.284,15.075],"reverse":true,"nice":false,"zero":false}}}},
  {"data":{"name":"stats"},"transform":[{"filter":"datum.p=='A2R'&&datum.s=='tms'"}],"mark":{"type":"rule","color":"#383838","strokeWidth":4.5},"encoding":{"x":{"field":"m","type":"quantitative"},"y":{"datum":0,"type":"quantitative"},"y2":{"datum":12.85}}}
 ]}
]},
{"width":292,"height":237,"resolve":{"scale":{"y":"independent"}},"layer":[
 {"layer":[
  {"data":{"name":"ticks"},"mark":{"type":"rule","color":"#444","strokeWidth":2},"encoding":{"x":{"field":"t","type":"quantitative"},"y":{"datum":-1.1,"type":"quantitative"},"y2":{"datum":1.1}}},
  {"data":{"name":"bins"},"transform":[{"filter":"datum.p=='B1L'&&datum.s=='non'"}],"mark":{"type":"bar","fill":"#fff","stroke":"#444","strokeWidth":1.4,"binSpacing":0},"encoding":{"x":{"field":"t","type":"quantitative","bin":{"binned":true,"step":10},"scale":{"domain":[-72,607],"nice":false,"zero":false}},"y":{"field":"v","type":"quantitative","scale":{"domain":[-14.478,20.896],"nice":false,"zero":false}}}},
  {"data":{"values":[{}]},"mark":{"type":"rule","color":"#444","strokeWidth":2},"encoding":{"x":{"datum":0,"type":"quantitative"},"x2":{"datum":600},"y":{"datum":0,"type":"quantitative"}}},
  {"data":{"name":"stats"},"transform":[{"filter":"datum.p=='B1L'&&datum.s=='non'"}],"mark":{"type":"rule","color":"#383838","strokeWidth":4.5},"encoding":{"x":{"field":"m","type":"quantitative"},"y":{"datum":0,"type":"quantitative"},"y2":{"datum":12.85}}},
  {"data":{"name":"stats"},"transform":[{"filter":"datum.p=='B1L'&&datum.s=='non'"}],"mark":{"type":"text","align":"right","baseline":"middle","font":"Liberation Serif","fontSize":16,"lineHeight":18,"fill":"#444"},"encoding":{"x":{"datum":597,"type":"quantitative"},"y":{"datum":9.85,"type":"quantitative"},"text":{"field":"l","type":"nominal"}}},
  {"data":{"name":"stats"},"transform":[{"filter":"datum.p=='B1L'&&datum.s=='tms'"}],"mark":{"type":"text","align":"right","baseline":"middle","font":"Liberation Serif","fontSize":16,"lineHeight":18,"fill":"#444"},"encoding":{"x":{"datum":597,"type":"quantitative"},"y":{"datum":-8.2,"type":"quantitative"},"text":{"field":"l","type":"nominal"}}},
  {"data":{"values":[{}]},"mark":{"type":"text","text":"B","font":"Liberation Sans","fontWeight":"bold","fontSize":24,"align":"left","baseline":"middle","fill":"#111"},"encoding":{"x":{"datum":-70,"type":"quantitative"},"y":{"datum":13.43,"type":"quantitative"}}},
  {"data":{"values":[{}]},"mark":{"type":"text","text":"PFC Sites","font":"Liberation Serif","fontSize":16,"angle":270,"align":"center","baseline":"middle","fill":"#444"},"encoding":{"x":{"datum":-32.6,"type":"quantitative"},"y":{"datum":0,"type":"quantitative"}}},
  {"data":{"values":[{}]},"mark":{"type":"text","text":"Ipsilateral Saccades","font":"Liberation Serif","fontSize":16,"align":"center","baseline":"middle","fill":"#333"},"encoding":{"x":{"datum":314,"type":"quantitative"},"y":{"datum":15.07,"type":"quantitative"}}}
 ]},
 {"layer":[
  {"data":{"name":"bins"},"transform":[{"filter":"datum.p=='B1L'&&datum.s=='tms'"}],"mark":{"type":"bar","fill":"#6a6a6a","binSpacing":0},"encoding":{"x":{"field":"t","type":"quantitative","bin":{"binned":true,"step":10}},"y":{"field":"v","type":"quantitative","scale":{"domain":[-20.896,14.478],"reverse":true,"nice":false,"zero":false}}}},
  {"data":{"name":"stats"},"transform":[{"filter":"datum.p=='B1L'&&datum.s=='tms'"}],"mark":{"type":"rule","color":"#383838","strokeWidth":4.5},"encoding":{"x":{"field":"m","type":"quantitative"},"y":{"datum":0,"type":"quantitative"},"y2":{"datum":12.85}}}
 ]}
]},
{"width":357,"height":237,"resolve":{"scale":{"y":"independent"}},"layer":[
 {"layer":[
  {"data":{"name":"ticks"},"mark":{"type":"rule","color":"#444","strokeWidth":2},"encoding":{"x":{"field":"t","type":"quantitative"},"y":{"datum":-1.1,"type":"quantitative"},"y2":{"datum":1.1}}},
  {"data":{"name":"bins"},"transform":[{"filter":"datum.p=='B1R'&&datum.s=='non'"}],"mark":{"type":"bar","fill":"#fff","stroke":"#444","strokeWidth":1.4,"binSpacing":0},"encoding":{"x":{"field":"t","type":"quantitative","bin":{"binned":true,"step":10},"scale":{"domain":[-9.3,820.9],"nice":false,"zero":false}},"y":{"field":"v","type":"quantitative","scale":{"domain":[-14.478,20.896],"nice":false,"zero":false}}}},
  {"data":{"values":[{}]},"mark":{"type":"rule","color":"#444","strokeWidth":2},"encoding":{"x":{"datum":0,"type":"quantitative"},"x2":{"datum":600},"y":{"datum":0,"type":"quantitative"}}},
  {"data":{"name":"stats"},"transform":[{"filter":"datum.p=='B1R'&&datum.s=='non'"}],"mark":{"type":"rule","color":"#383838","strokeWidth":4.5},"encoding":{"x":{"field":"m","type":"quantitative"},"y":{"datum":0,"type":"quantitative"},"y2":{"datum":12.85}}},
  {"data":{"name":"stats"},"transform":[{"filter":"datum.p=='B1R'&&datum.s=='non'"}],"mark":{"type":"text","align":"right","baseline":"middle","font":"Liberation Serif","fontSize":16,"lineHeight":18,"fill":"#444"},"encoding":{"x":{"datum":597,"type":"quantitative"},"y":{"datum":9.85,"type":"quantitative"},"text":{"field":"l","type":"nominal"}}},
  {"data":{"name":"stats"},"transform":[{"filter":"datum.p=='B1R'&&datum.s=='tms'"}],"mark":{"type":"text","align":"right","baseline":"middle","font":"Liberation Serif","fontSize":16,"lineHeight":18,"fill":"#444"},"encoding":{"x":{"datum":597,"type":"quantitative"},"y":{"datum":-8.2,"type":"quantitative"},"text":{"field":"l","type":"nominal"}}},
  {"data":{"values":[{}]},"mark":{"type":"text","text":"Contralateral Saccades","font":"Liberation Serif","fontSize":16,"align":"center","baseline":"middle","fill":"#333"},"encoding":{"x":{"datum":316,"type":"quantitative"},"y":{"datum":15.07,"type":"quantitative"}}},
  {"data":{"values":[{}]},"mark":{"type":"text","text":"Monkey","font":"Liberation Serif","fontSize":20,"align":"right","baseline":"middle","fill":"#333"},"encoding":{"x":{"datum":67.4,"type":"quantitative"},"y":{"datum":19.3,"type":"quantitative"}}},
  {"data":{"values":[{}]},"mark":{"type":"text","text":"al","font":"Liberation Serif","fontStyle":"italic","fontSize":20,"align":"left","baseline":"middle","fill":"#333"},"encoding":{"x":{"datum":79,"type":"quantitative"},"y":{"datum":19.3,"type":"quantitative"}}}
 ]},
 {"layer":[
  {"data":{"name":"bins"},"transform":[{"filter":"datum.p=='B1R'&&datum.s=='tms'"}],"mark":{"type":"bar","fill":"#6a6a6a","binSpacing":0},"encoding":{"x":{"field":"t","type":"quantitative","bin":{"binned":true,"step":10}},"y":{"field":"v","type":"quantitative","scale":{"domain":[-20.896,14.478],"reverse":true,"nice":false,"zero":false}}}},
  {"data":{"name":"stats"},"transform":[{"filter":"datum.p=='B1R'&&datum.s=='tms'"}],"mark":{"type":"rule","color":"#383838","strokeWidth":4.5},"encoding":{"x":{"field":"m","type":"quantitative"},"y":{"datum":0,"type":"quantitative"},"y2":{"datum":12.85}}}
 ]}
]},
{"width":292,"height":198,"resolve":{"scale":{"y":"independent"}},"layer":[
 {"layer":[
  {"data":{"name":"ticks"},"mark":{"type":"rule","color":"#444","strokeWidth":2},"encoding":{"x":{"field":"t","type":"quantitative"},"y":{"datum":-1.1,"type":"quantitative"},"y2":{"datum":1.1}}},
  {"data":{"name":"bins"},"transform":[{"filter":"datum.p=='B2L'&&datum.s=='non'"}],"mark":{"type":"bar","fill":"#fff","stroke":"#444","strokeWidth":1.4,"binSpacing":0},"encoding":{"x":{"field":"t","type":"quantitative","bin":{"binned":true,"step":10},"scale":{"domain":[-72,607],"nice":false,"zero":false}},"y":{"field":"v","type":"quantitative","scale":{"domain":[-15.522,14.03],"nice":false,"zero":false}}}},
  {"data":{"values":[{}]},"mark":{"type":"rule","color":"#444","strokeWidth":2},"encoding":{"x":{"datum":0,"type":"quantitative"},"x2":{"datum":600},"y":{"datum":0,"type":"quantitative"}}},
  {"data":{"name":"stats"},"transform":[{"filter":"datum.p=='B2L'&&datum.s=='non'"}],"mark":{"type":"rule","color":"#383838","strokeWidth":4.5},"encoding":{"x":{"field":"m","type":"quantitative"},"y":{"datum":0,"type":"quantitative"},"y2":{"datum":12.85}}},
  {"data":{"name":"stats"},"transform":[{"filter":"datum.p=='B2L'&&datum.s=='non'"}],"mark":{"type":"text","align":"right","baseline":"middle","font":"Liberation Serif","fontSize":16,"lineHeight":18,"fill":"#444"},"encoding":{"x":{"datum":597,"type":"quantitative"},"y":{"datum":10.3,"type":"quantitative"},"text":{"field":"l","type":"nominal"}}},
  {"data":{"name":"stats"},"transform":[{"filter":"datum.p=='B2L'&&datum.s=='tms'"}],"mark":{"type":"text","align":"right","baseline":"middle","font":"Liberation Serif","fontSize":16,"lineHeight":18,"fill":"#444"},"encoding":{"x":{"datum":597,"type":"quantitative"},"y":{"datum":-7.9,"type":"quantitative"},"text":{"field":"l","type":"nominal"}}},
  {"data":{"values":[{}]},"mark":{"type":"text","text":"Control Sites","font":"Liberation Serif","fontSize":16,"angle":270,"align":"center","baseline":"middle","fill":"#444"},"encoding":{"x":{"datum":-32.6,"type":"quantitative"},"y":{"datum":0.15,"type":"quantitative"}}}
 ]},
 {"layer":[
  {"data":{"name":"bins"},"transform":[{"filter":"datum.p=='B2L'&&datum.s=='tms'"}],"mark":{"type":"bar","fill":"#6a6a6a","binSpacing":0},"encoding":{"x":{"field":"t","type":"quantitative","bin":{"binned":true,"step":10}},"y":{"field":"v","type":"quantitative","scale":{"domain":[-14.03,15.522],"reverse":true,"nice":false,"zero":false}}}},
  {"data":{"name":"stats"},"transform":[{"filter":"datum.p=='B2L'&&datum.s=='tms'"}],"mark":{"type":"rule","color":"#383838","strokeWidth":4.5},"encoding":{"x":{"field":"m","type":"quantitative"},"y":{"datum":0,"type":"quantitative"},"y2":{"datum":12.85}}}
 ]}
]},
{"width":357,"height":198,"resolve":{"scale":{"y":"independent"}},"layer":[
 {"layer":[
  {"data":{"name":"ticks"},"mark":{"type":"rule","color":"#444","strokeWidth":2},"encoding":{"x":{"field":"t","type":"quantitative"},"y":{"datum":-1.1,"type":"quantitative"},"y2":{"datum":1.1}}},
  {"data":{"name":"bins"},"transform":[{"filter":"datum.p=='B2R'&&datum.s=='non'"}],"mark":{"type":"bar","fill":"#fff","stroke":"#444","strokeWidth":1.4,"binSpacing":0},"encoding":{"x":{"field":"t","type":"quantitative","bin":{"binned":true,"step":10},"scale":{"domain":[-9.3,820.9],"nice":false,"zero":false}},"y":{"field":"v","type":"quantitative","scale":{"domain":[-15.522,14.03],"nice":false,"zero":false}}}},
  {"data":{"values":[{}]},"mark":{"type":"rule","color":"#444","strokeWidth":2},"encoding":{"x":{"datum":0,"type":"quantitative"},"x2":{"datum":600},"y":{"datum":0,"type":"quantitative"}}},
  {"data":{"name":"stats"},"transform":[{"filter":"datum.p=='B2R'&&datum.s=='non'"}],"mark":{"type":"rule","color":"#383838","strokeWidth":4.5},"encoding":{"x":{"field":"m","type":"quantitative"},"y":{"datum":0,"type":"quantitative"},"y2":{"datum":12.85}}},
  {"data":{"name":"stats"},"transform":[{"filter":"datum.p=='B2R'&&datum.s=='non'"}],"mark":{"type":"text","align":"right","baseline":"middle","font":"Liberation Serif","fontSize":16,"lineHeight":18,"fill":"#444"},"encoding":{"x":{"datum":597,"type":"quantitative"},"y":{"datum":10.3,"type":"quantitative"},"text":{"field":"l","type":"nominal"}}},
  {"data":{"name":"stats"},"transform":[{"filter":"datum.p=='B2R'&&datum.s=='tms'"}],"mark":{"type":"text","align":"right","baseline":"middle","font":"Liberation Serif","fontSize":16,"lineHeight":18,"fill":"#444"},"encoding":{"x":{"datum":597,"type":"quantitative"},"y":{"datum":-7.9,"type":"quantitative"},"text":{"field":"l","type":"nominal"}}},
  {"data":{"values":[{}]},"mark":{"type":"rect","fill":"#fff","stroke":"#555","strokeWidth":1.3},"encoding":{"x":{"datum":614,"type":"quantitative"},"x2":{"datum":633},"y":{"datum":-0.75,"type":"quantitative"},"y2":{"datum":-1.5}}},
  {"data":{"values":[{}]},"mark":{"type":"text","text":["non-TMS","Trials"],"font":"Liberation Serif","fontSize":16,"lineHeight":17,"align":"left","baseline":"middle","fill":"#444"},"encoding":{"x":{"datum":649,"type":"quantitative"},"y":{"datum":0.15,"type":"quantitative"}}},
  {"data":{"values":[{}]},"mark":{"type":"rect","fill":"#555"},"encoding":{"x":{"datum":616,"type":"quantitative"},"x2":{"datum":633},"y":{"datum":-4.75,"type":"quantitative"},"y2":{"datum":-5.2}}},
  {"data":{"values":[{}]},"mark":{"type":"text","text":"TMS Trials","font":"Liberation Serif","fontSize":16,"align":"left","baseline":"middle","fill":"#444"},"encoding":{"x":{"datum":649,"type":"quantitative"},"y":{"datum":-4.93,"type":"quantitative"}}},
  {"data":{"values":[{}]},"mark":{"type":"rule","color":"#777","strokeWidth":1.2},"encoding":{"x":{"datum":619,"type":"quantitative"},"y":{"datum":-7.54,"type":"quantitative"},"y2":{"datum":-12.54}}},
  {"data":{"values":[{}]},"mark":{"type":"text","text":["5% of","Total Trials"],"font":"Liberation Serif","fontSize":16,"lineHeight":18,"align":"left","baseline":"middle","fill":"#666"},"encoding":{"x":{"datum":649,"type":"quantitative"},"y":{"datum":-9.1,"type":"quantitative"}}},
  {"data":{"values":[{}]},"mark":{"type":"rule","color":"#555","strokeWidth":1.2},"encoding":{"x":{"datum":500,"type":"quantitative"},"x2":{"datum":600},"y":{"datum":-12.54,"type":"quantitative"}}},
  {"data":{"values":[{}]},"mark":{"type":"text","text":"100 ms","font":"Liberation Serif","fontSize":16,"align":"center","baseline":"middle","fill":"#555"},"encoding":{"x":{"datum":551,"type":"quantitative"},"y":{"datum":-13.88,"type":"quantitative"}}}
 ]},
 {"layer":[
  {"data":{"name":"bins"},"transform":[{"filter":"datum.p=='B2R'&&datum.s=='tms'"}],"mark":{"type":"bar","fill":"#6a6a6a","binSpacing":0},"encoding":{"x":{"field":"t","type":"quantitative","bin":{"binned":true,"step":10}},"y":{"field":"v","type":"quantitative","scale":{"domain":[-14.03,15.522],"reverse":true,"nice":false,"zero":false}}}},
  {"data":{"name":"stats"},"transform":[{"filter":"datum.p=='B2R'&&datum.s=='tms'"}],"mark":{"type":"rule","color":"#383838","strokeWidth":4.5},"encoding":{"x":{"field":"m","type":"quantitative"},"y":{"datum":0,"type":"quantitative"},"y2":{"datum":12.85}}}
 ]}
]}
]
}
